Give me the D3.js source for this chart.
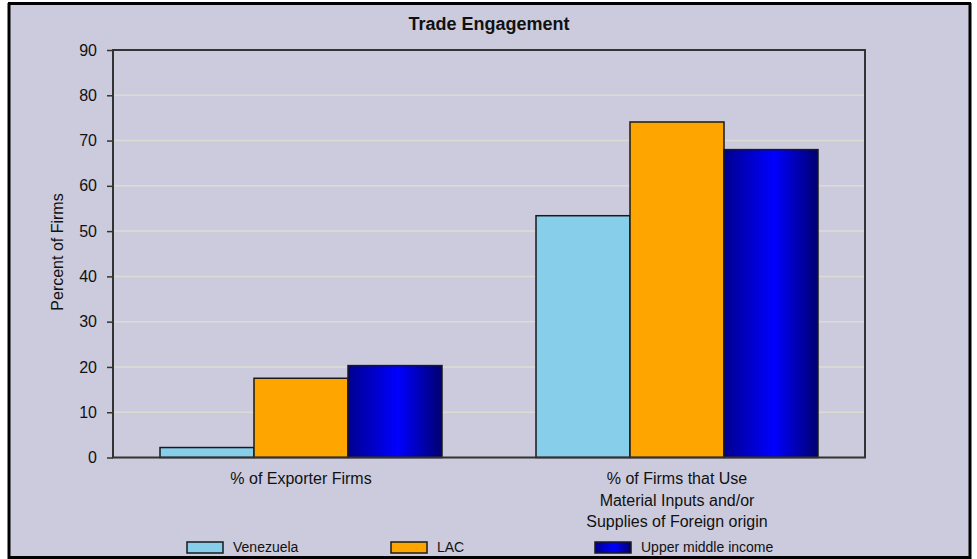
<!DOCTYPE html>
<html><head><meta charset="utf-8">
<script src="https://cdn.jsdelivr.net/npm/d3@7"></script>
<style>
html,body{margin:0;padding:0;background:#fff;}
text{font-family:"Liberation Sans",Arial,sans-serif;fill:#111;}
</style></head>
<body><svg id="chart" width="977" height="559"></svg>
<script>
const title = "Trade Engagement";
const yLabel = "Percent of Firms";
const categories = ["% of Exporter Firms", "% of Firms that Use\nMaterial Inputs and/or\nSupplies of Foreign origin"];
const seriesNames = ["Venezuela", "LAC", "Upper middle income"];
const venezuela = [2.2, 53.4];
const lac = [17.5, 74.1];
const upperMiddle = [20.3, 68.0];
const yTicks = [0, 10, 20, 30, 40, 50, 60, 70, 80, 90];

const seriesValues = [venezuela, lac, upperMiddle];
const colors = ["#87ceeb", "#ffa500", "url(#blueGrad)"];

const svg = d3.select("#chart");
const W = 977, H = 559;
const m = {left: 113, right: 865, top: 50, bottom: 457.5};

const defs = svg.append("defs");
const g = defs.append("linearGradient").attr("id", "blueGrad").attr("x1", "0%").attr("x2", "100%");
g.append("stop").attr("offset", "0%").attr("stop-color", "#000090");
g.append("stop").attr("offset", "53%").attr("stop-color", "#0000ff");
g.append("stop").attr("offset", "100%").attr("stop-color", "#000070");

// background and frame
svg.append("rect").attr("x", 0).attr("y", 0).attr("width", W).attr("height", H).attr("fill", "#ffffff");
svg.append("rect").attr("x", 9).attr("y", 4).attr("width", 961).attr("height", 560)
  .attr("fill", "#cbcbdd");

const x0 = d3.scaleBand().domain(categories).range([m.left, m.right]).paddingInner(0).paddingOuter(0);
const x1 = d3.scaleBand().domain(seriesNames).range([0, x0.bandwidth()]).paddingInner(0).paddingOuter(0.5);
const y = d3.scaleLinear().domain([0, 90]).range([m.bottom, m.top]);

// gridlines
svg.append("g").selectAll("line").data(yTicks.filter(t => t > 0 && t < 90)).join("line")
  .attr("x1", m.left).attr("x2", m.right)
  .attr("y1", d => y(d)).attr("y2", d => y(d))
  .attr("stroke", "#dcdcd4").attr("stroke-width", 1.5);

// bars
const groups = svg.append("g").selectAll("g").data(categories).join("g")
  .attr("transform", d => `translate(${x0(d)},0)`);
groups.selectAll("rect").data((c, ci) => seriesNames.map((s, si) => ({s, si, v: seriesValues[si][ci]}))).join("rect")
  .attr("x", d => x1(d.s)).attr("width", x1.bandwidth())
  .attr("y", d => y(d.v)).attr("height", d => y(0) - y(d.v))
  .attr("fill", d => colors[d.si]).attr("stroke", "#1a1a1a").attr("stroke-width", 1.5);

// plot frame
svg.append("rect").attr("x", m.left).attr("y", m.top).attr("width", m.right - m.left).attr("height", m.bottom - m.top)
  .attr("fill", "none").attr("stroke", "#333").attr("stroke-width", 2);

// y axis
const yAxis = d3.axisLeft(y).tickValues(yTicks).tickSize(6).tickPadding(10).tickFormat(d3.format("d"));
const ya = svg.append("g").attr("transform", `translate(${m.left},0)`).call(yAxis);
ya.select(".domain").remove();
ya.selectAll(".tick line").attr("stroke", "#333").attr("stroke-width", 1.5);
ya.selectAll(".tick text").attr("font-size", 16).attr("font-family", "Liberation Sans, Arial, sans-serif").attr("fill", "#111");

// x labels
const xl = svg.append("g");
categories.forEach(c => {
  const lines = c.split("\n");
  const t = xl.append("text").attr("x", x0(c) + x0.bandwidth() / 2).attr("y", 484)
    .attr("text-anchor", "middle").attr("font-size", 16);
  lines.forEach((ln, i) => t.append("tspan").attr("x", x0(c) + x0.bandwidth() / 2).attr("dy", i === 0 ? 0 : 21.5).text(ln));
});

// title
svg.append("text").attr("x", 489).attr("y", 30).attr("text-anchor", "middle")
  .attr("font-size", 18).attr("font-weight", "bold").text(title);

// y label
svg.append("text").attr("transform", `translate(63,252) rotate(-90)`).attr("text-anchor", "middle")
  .attr("font-size", 16).text(yLabel);

// legend
const legendX = [187, 391, 595];
const leg = svg.append("g");
seriesNames.forEach((s, i) => {
  leg.append("rect").attr("x", legendX[i]).attr("y", 542).attr("width", 36).attr("height", 11)
    .attr("fill", colors[i]).attr("stroke", "#1a1a1a").attr("stroke-width", 1.5);
  leg.append("text").attr("x", legendX[i] + 46).attr("y", 552).attr("font-size", 14).text(s);
});

// outer border
svg.append("line").attr("x1", 9).attr("x2", 9).attr("y1", 3).attr("y2", 559).attr("stroke", "#000").attr("stroke-width", 3);
svg.append("line").attr("x1", 970).attr("x2", 970).attr("y1", 3).attr("y2", 559).attr("stroke", "#000").attr("stroke-width", 3);
svg.append("line").attr("x1", 8).attr("x2", 971).attr("y1", 3.5).attr("y2", 3.5).attr("stroke", "#000").attr("stroke-width", 3);
svg.append("line").attr("x1", 8).attr("x2", 971).attr("y1", 557.5).attr("y2", 557.5).attr("stroke", "#000").attr("stroke-width", 3);
</script></body></html>
